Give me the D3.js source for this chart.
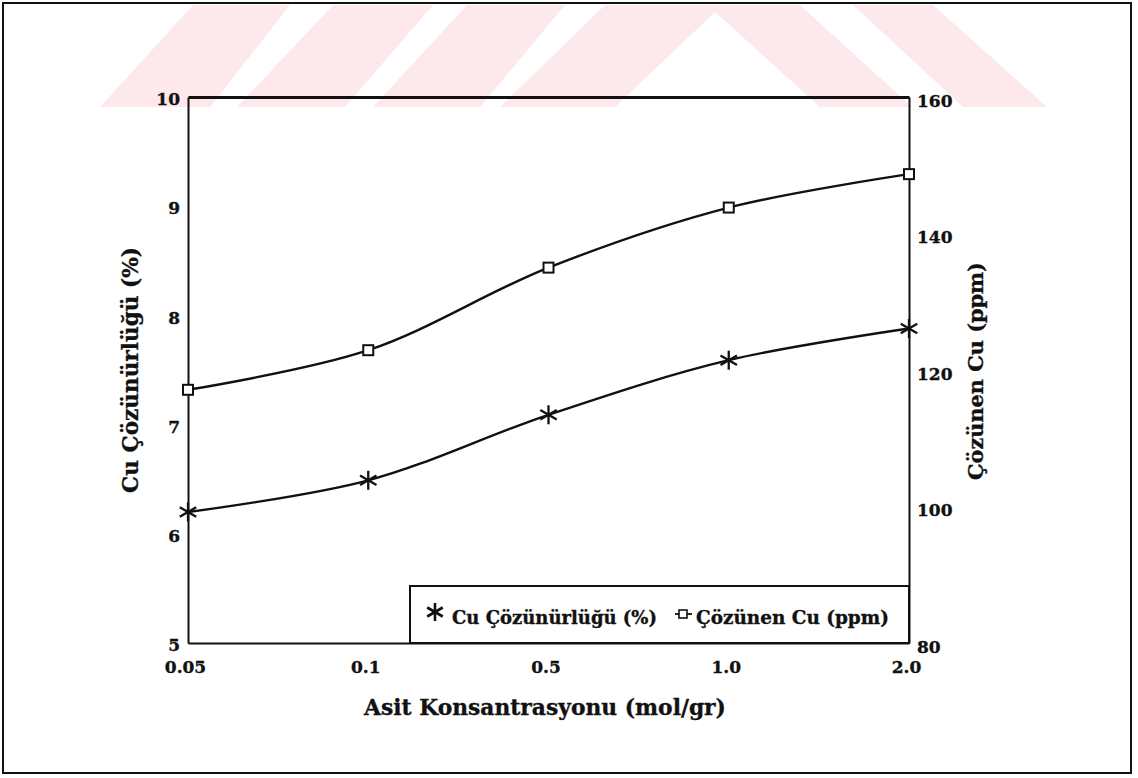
<!DOCTYPE html>
<html>
<head>
<meta charset="utf-8">
<script src="https://cdn.jsdelivr.net/npm/d3@7/dist/d3.min.js"></script>
<style>
  html, body { margin: 0; padding: 0; background: #fff; }
  svg { display: block; }
  text { font-weight: bold; fill: #111; }
  .lbl { font-family: "DejaVu Serif", serif; stroke: #111; stroke-width: 0.35px; }
</style>
</head>
<body>
<svg id="chart" width="1138" height="778"></svg>
<script>
// Acid concentration categories (mol/gr), evenly spaced on the x axis
const concentrations = ["0.05", "0.1", "0.5", "1.0", "2.0"];
// Cu solubility (%), left axis
const solubility = [6.2, 6.49, 7.09, 7.59, 7.88];
// Dissolved Cu (ppm), right axis
const dissolved = [117.1, 122.9, 135.0, 143.8, 148.7];
// Tick labels
const leftTicks = [5, 6, 7, 8, 9, 10];
const rightTicks = [80, 100, 120, 140, 160];

const svg = d3.select("#chart");
const m = { left: 188, right: 909, top: 97, bottom: 643 };

// Shrink/grow a label's font size so it spans the wanted width
function fit(sel, width) {
  const node = sel.node();
  const fs = parseFloat(sel.attr("font-size"));
  const len = node.getComputedTextLength();
  if (len > 0) sel.attr("font-size", (fs * width / len).toFixed(2));
  return sel;
}

// Decorative pink band behind the top of the page
const band = svg.append("g").attr("fill", "#fde8ec");
const bandShapes = [
  [[100,107],[210,107],[290,5],[193,5]],
  [[237,107],[345,107],[433,5],[333,5]],
  [[373,107],[480,107],[565,5],[467,5]],
  [[500,107],[605,5],[800,5],[912,107],[820,107],[715,12],[615,107]],
  [[853,5],[933,5],[1047,107],[963,107]]
];
band.selectAll("path").data(bandShapes).join("path")
  .attr("d", d => "M" + d.map(p => p.join(",")).join("L") + "Z");

// Page frame
svg.append("rect").attr("x", 3).attr("y", 3).attr("width", 1128).attr("height", 770)
  .attr("fill", "none").attr("stroke", "#111").attr("stroke-width", 2);

const x = d3.scalePoint().domain(concentrations).range([m.left, m.right]);
const yL = d3.scaleLinear().domain([5, 10]).range([m.bottom, m.top]);
const yR = d3.scaleLinear().domain([80, 160]).range([m.bottom, m.top]);

// Axes (labels only, no tick marks)
const axL = svg.append("g").attr("transform", `translate(${m.left},0)`)
  .call(d3.axisLeft(yL).tickValues(leftTicks).tickSize(0).tickPadding(8).tickFormat(d3.format("d")));
const axR = svg.append("g").attr("transform", `translate(${m.right},0)`)
  .call(d3.axisRight(yR).tickValues(rightTicks).tickSize(0).tickPadding(8).tickFormat(d3.format("d")));
const axB = svg.append("g").attr("transform", `translate(0,${m.bottom})`)
  .call(d3.axisBottom(x).tickSize(0).tickPadding(18));
const axT = svg.append("g").attr("transform", `translate(0,${m.top})`)
  .call(d3.axisTop(x).tickSize(0).tickFormat(() => ""));

[axL, axR, axB, axT].forEach(g => {
  g.select(".domain").attr("stroke", "#111").attr("stroke-width", 2);
  g.selectAll("text").attr("font-family", null).attr("class", "lbl").attr("font-size", 17)
    .attr("fill", "#111");
});
axT.select(".domain").attr("stroke-width", 3);
axL.selectAll("text").attr("dy", "0.45em");
axR.selectAll("text").attr("dy", "0.55em");
axB.selectAll("text").attr("dx", -3);

// Axis titles
fit(svg.append("text").attr("class", "lbl").attr("x", 545).attr("y", 715).attr("text-anchor", "middle")
  .attr("font-size", 22).text("Asit Konsantrasyonu (mol/gr)"), 362);
fit(svg.append("text").attr("class", "lbl").attr("transform", "translate(138,370) rotate(-90)")
  .attr("text-anchor", "middle").attr("font-size", 22).text("Cu Çözünürlüğü (%)"), 246);
fit(svg.append("text").attr("class", "lbl").attr("transform", "translate(983,371) rotate(-90)")
  .attr("text-anchor", "middle").attr("font-size", 22).text("Çözünen Cu (ppm)"), 218);

// Smoothed series lines
const lineL = d3.line().x((d, i) => x(concentrations[i])).y(d => yL(d)).curve(d3.curveCatmullRom);
const lineR = d3.line().x((d, i) => x(concentrations[i])).y(d => yR(d)).curve(d3.curveCatmullRom);

svg.append("path").attr("d", lineR(dissolved))
  .attr("fill", "none").attr("stroke", "#111").attr("stroke-width", 2.4);
svg.append("path").attr("d", lineL(solubility))
  .attr("fill", "none").attr("stroke", "#111").attr("stroke-width", 2.4);

// Asterisk marker: three crossing strokes
function asterisk(g, cx, cy, r, w) {
  [90, 30, -30].forEach(a => {
    const rad = a * Math.PI / 180;
    g.append("line")
      .attr("x1", cx - r * Math.cos(rad)).attr("y1", cy - r * Math.sin(rad))
      .attr("x2", cx + r * Math.cos(rad)).attr("y2", cy + r * Math.sin(rad))
      .attr("stroke", "#111").attr("stroke-width", w);
  });
}

const markL = svg.append("g");
solubility.forEach((v, i) => asterisk(markL, x(concentrations[i]), yL(v), 9.5, 2.3));

svg.append("g").selectAll("rect").data(dissolved).join("rect")
  .attr("x", (d, i) => x(concentrations[i]) - 5)
  .attr("y", d => yR(d) - 5)
  .attr("width", 10).attr("height", 10)
  .attr("fill", "#fff").attr("stroke", "#111").attr("stroke-width", 2);

// Legend
const leg = svg.append("g");
leg.append("rect").attr("x", 410).attr("y", 586).attr("width", m.right - 410).attr("height", m.bottom - 586)
  .attr("fill", "#fff").attr("stroke", "#111").attr("stroke-width", 2);
asterisk(leg, 435, 612, 9, 2.6);
fit(leg.append("text").attr("class", "lbl").attr("x", 452).attr("y", 624).attr("font-size", 18)
  .text("Cu Çözünürlüğü (%)"), 205);
leg.append("line").attr("x1", 675).attr("x2", 692).attr("y1", 614).attr("y2", 614)
  .attr("stroke", "#111").attr("stroke-width", 1.8);
leg.append("rect").attr("x", 679).attr("y", 610).attr("width", 8).attr("height", 8)
  .attr("fill", "#fff").attr("stroke", "#111").attr("stroke-width", 1.6);
fit(leg.append("text").attr("class", "lbl").attr("x", 696).attr("y", 624).attr("font-size", 18)
  .text("Çözünen Cu (ppm)"), 193);
</script>
</body>
</html>
